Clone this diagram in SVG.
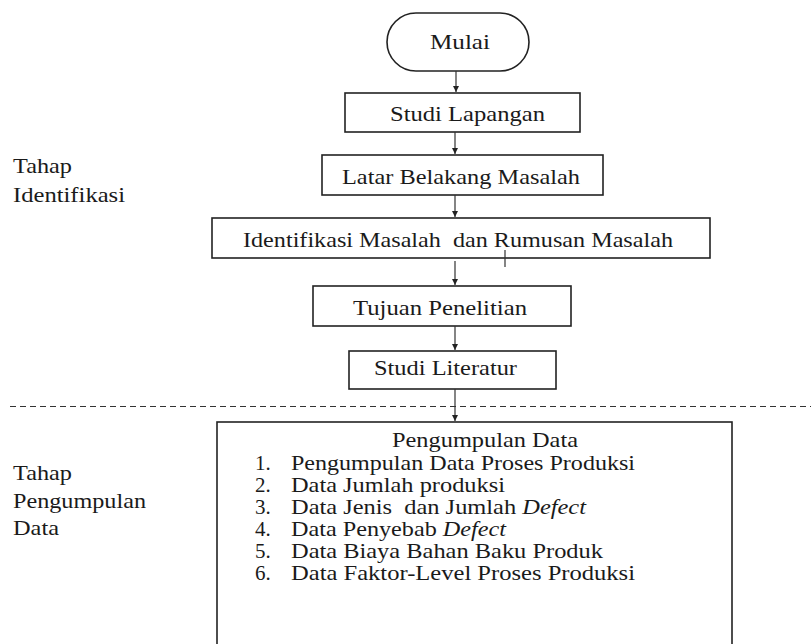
<svg xmlns="http://www.w3.org/2000/svg" width="811" height="644" viewBox="0 0 811 644" font-family="'Liberation Serif', 'Times New Roman', serif">
<defs>
<marker id="ah" markerWidth="8" markerHeight="8" refX="6" refY="4" orient="auto" markerUnits="userSpaceOnUse">
<path d="M0,1 L6,4 L0,7 Z" fill="#222"/>
</marker>
<style>
text{font-family:'Liberation Serif','Times New Roman',serif;font-size:21px;fill:#1a1a1a}
.box{fill:#fff;stroke:#222;stroke-width:1.6}
.con{stroke:#333;stroke-width:1.2;fill:none}
.dash{stroke:#333;stroke-width:1.2;stroke-dasharray:6 4}
</style>
</defs>
<rect width="811" height="644" fill="#fff"/>
<g id="labels">
<text x="13" y="173" textLength="59" lengthAdjust="spacingAndGlyphs">Tahap</text>
<text x="13" y="202" textLength="112" lengthAdjust="spacingAndGlyphs">Identifikasi</text>
<text x="13" y="480" textLength="59" lengthAdjust="spacingAndGlyphs">Tahap</text>
<text x="13" y="508" textLength="133" lengthAdjust="spacingAndGlyphs">Pengumpulan</text>
<text x="13" y="535" textLength="46" lengthAdjust="spacingAndGlyphs">Data</text>
</g>
<line class="dash" x1="10" y1="406.5" x2="811" y2="406.5"/>
<g id="mulai">
<rect class="box" x="387" y="13" width="142" height="58" rx="29" ry="29"/>
<text x="430" y="49" textLength="60" lengthAdjust="spacingAndGlyphs">Mulai</text>
</g>
<g id="studi-lapangan">
<rect class="box" x="345" y="93" width="235" height="39"/>
<text x="390" y="121" textLength="155" lengthAdjust="spacingAndGlyphs">Studi Lapangan</text>
</g>
<g id="latar">
<rect class="box" x="322" y="155" width="281" height="40"/>
<text x="342" y="184" textLength="238" lengthAdjust="spacingAndGlyphs">Latar Belakang Masalah</text>
</g>
<g id="identifikasi">
<rect class="box" x="212" y="218" width="498" height="40"/>
<text x="243" y="247" textLength="430" lengthAdjust="spacingAndGlyphs" xml:space="preserve">Identifikasi Masalah  dan Rumusan Masalah</text>
</g>
<g id="tujuan">
<rect class="box" x="313" y="286" width="258" height="40"/>
<text x="353" y="315" textLength="174" lengthAdjust="spacingAndGlyphs">Tujuan Penelitian</text>
</g>
<g id="studi-literatur">
<rect class="box" x="349" y="351" width="207" height="38"/>
<text x="374" y="375" textLength="143" lengthAdjust="spacingAndGlyphs">Studi Literatur</text>
</g>
<g id="pengumpulan">
<rect class="box" x="217" y="422" width="515" height="240"/>
<text x="392" y="447" textLength="186" lengthAdjust="spacingAndGlyphs">Pengumpulan Data</text>
<text x="255" y="470">1.</text>
<text x="291" y="470" textLength="344" lengthAdjust="spacingAndGlyphs">Pengumpulan Data Proses Produksi</text>
<text x="255" y="492">2.</text>
<text x="291" y="492" textLength="214" lengthAdjust="spacingAndGlyphs">Data Jumlah produksi</text>
<text x="255" y="514">3.</text>
<text x="291" y="514" textLength="295" lengthAdjust="spacingAndGlyphs" xml:space="preserve">Data Jenis  dan Jumlah <tspan font-style="italic">Defect</tspan></text>
<text x="255" y="536">4.</text>
<text x="291" y="536" textLength="215" lengthAdjust="spacingAndGlyphs">Data Penyebab <tspan font-style="italic">Defect</tspan></text>
<text x="255" y="558">5.</text>
<text x="291" y="558" textLength="312" lengthAdjust="spacingAndGlyphs">Data Biaya Bahan Baku Produk</text>
<text x="255" y="580">6.</text>
<text x="291" y="580" textLength="344" lengthAdjust="spacingAndGlyphs">Data Faktor-Level Proses Produksi</text>
</g>
<g id="connectors">
<line class="con" x1="456" y1="71" x2="456" y2="92" marker-end="url(#ah)"/>
<line class="con" x1="455" y1="132" x2="455" y2="154" marker-end="url(#ah)"/>
<line class="con" x1="455" y1="195" x2="455" y2="217" marker-end="url(#ah)"/>
<line class="con" x1="455" y1="261" x2="455" y2="285" marker-end="url(#ah)"/>
<line class="con" x1="455" y1="326" x2="455" y2="350" marker-end="url(#ah)"/>
<line class="con" x1="455" y1="389" x2="455" y2="421" marker-end="url(#ah)"/>
<line class="con" x1="505" y1="250" x2="505" y2="267"/>
</g>
</svg>
